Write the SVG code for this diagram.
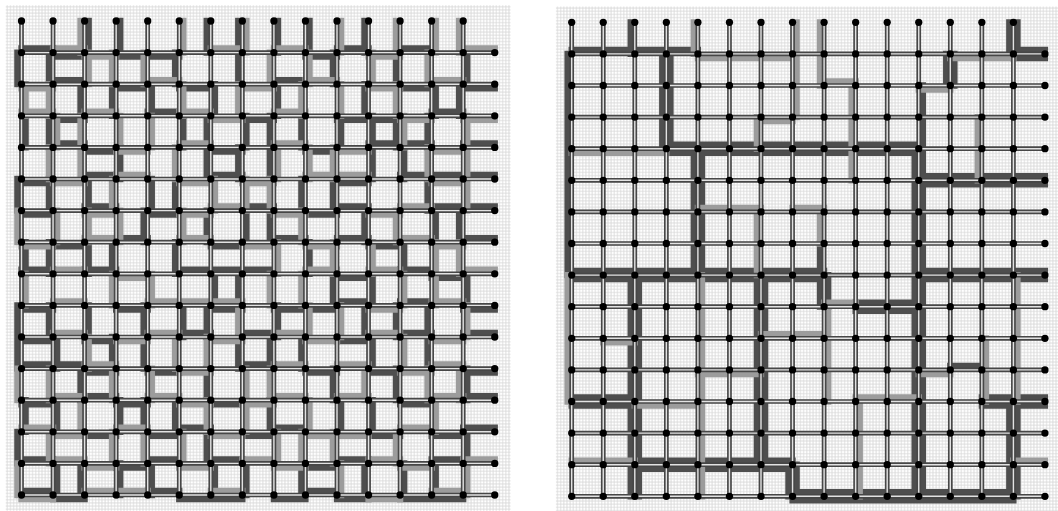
<svg xmlns="http://www.w3.org/2000/svg" width="1058" height="511" viewBox="0 0 1058 511">
<style>
.d{fill:none;stroke:#4e4e4e;stroke-width:2;stroke-linecap:square}
.l{fill:none;stroke:#9c9c9c;stroke-width:2;stroke-linecap:square}
.e{fill:none;stroke:#474747;stroke-width:1.5}
.ec{fill:none;stroke:#e2e2e2;stroke-width:0.45}
.n circle{fill:#000}
</style>
<defs>
<pattern id="fg" width="1" height="1" patternUnits="userSpaceOnUse"><rect width="1" height="1" fill="#fff"/><path d="M0 0.5H1M0.5 0V1" stroke="#d8d8d8" stroke-width="0.26" fill="none"/></pattern>
<g id="row0" class="n"><circle cx="0" r="1.15"/><circle cx="10" r="1.15"/><circle cx="20" r="1.15"/><circle cx="30" r="1.15"/><circle cx="40" r="1.15"/><circle cx="50" r="1.15"/><circle cx="60" r="1.15"/><circle cx="70" r="1.15"/><circle cx="80" r="1.15"/><circle cx="90" r="1.15"/><circle cx="100" r="1.15"/><circle cx="110" r="1.15"/><circle cx="120" r="1.15"/><circle cx="130" r="1.15"/><circle cx="140" r="1.15"/></g>
<g id="rowN" class="n"><use href="#row0"/><circle cx="150" r="1.15"/></g>
<path id="edges" d="M0 10H150M0 20H150M0 30H150M0 40H150M0 50H150M0 60H150M0 70H150M0 80H150M0 90H150M0 100H150M0 110H150M0 120H150M0 130H150M0 140H150M0 150H150M0 0V150M10 0V150M20 0V150M30 0V150M40 0V150M50 0V150M60 0V150M70 0V150M80 0V150M90 0V150M100 0V150M110 0V150M120 0V150M130 0V150M140 0V150"/>
<g id="nodes"><use href="#row0"/><use href="#rowN" y="10"/><use href="#rowN" y="20"/><use href="#rowN" y="30"/><use href="#rowN" y="40"/><use href="#rowN" y="50"/><use href="#rowN" y="60"/><use href="#rowN" y="70"/><use href="#rowN" y="80"/><use href="#rowN" y="90"/><use href="#rowN" y="100"/><use href="#rowN" y="110"/><use href="#rowN" y="120"/><use href="#rowN" y="130"/><use href="#rowN" y="140"/><use href="#rowN" y="150"/></g>
</defs>
<rect width="1058" height="511" fill="#fff"/>

<g id="panel-left" transform="translate(21.5 21) scale(3.155 3.16)">
<rect x="-5" y="-5" width="160" height="160" fill="url(#fg)"/>
<g id="left-connectors">
<path class="d" d="M10 11.3h10M30 11.3h20M100 8.7h10M120 8.7h10M10 18.7h10M50 21.3h10M80 18.7h10M120 21.3h10M10 31.3h10M100 31.3h20M10 38.7h10M20 41.3h10M60 41.3h10M110 38.7h20M140 38.7h10M20 48.7h10M120 48.7h30M20 58.7h10M70 58.7h10M100 58.7h10M130 58.7h20M30 68.7h10M80 68.7h10M110 71.3h10M140 68.7h10M20 78.7h10M50 78.7h30M120 78.7h10M0 91.3h10M30 91.3h10M80 91.3h20M120 88.7h10M0 101.3h10M20 101.3h10M70 98.7h10M140 98.7h10M0 108.7h20M20 111.3h10M110 111.3h10M0 121.3h10M20 118.7h10M30 121.3h10M140 118.7h10M40 131.3h10M50 128.7h10M80 128.7h10M110 131.3h10M140 128.7h10M0 138.7h10M30 141.3h10M60 138.7h10M100 138.7h10M0 148.7h10M10 151.3h10M50 151.3h20M80 151.3h10M100 151.3h10M120 151.3h20
M0 8.7h10M90 11.3h10M30 21.3h10M140 21.3h10M40 28.7h10M70 31.3h10M130 28.7h10M90 41.3h10M0 51.3h10M60 48.7h10M100 51.3h10M0 61.3h10M40 61.3h10M90 61.3h10M10 71.3h10M60 71.3h10M100 68.7h10M0 78.7h10M100 81.3h10M130 81.3h10M60 91.3h10M100 88.7h10M140 91.3h10M50 98.7h10M100 101.3h10M120 98.7h10M40 111.3h10M70 108.7h10M90 111.3h10M140 111.3h10M60 121.3h10M120 121.3h10M20 131.3h10M70 131.3h10M130 131.3h10M40 138.7h10M90 141.3h10M130 138.7h10M40 148.7h10M90 148.7h10
M-1.3 10v10M1.3 30v10M-1.3 50v10M-1.3 90v20M1.3 120v10M8.7 10v10M8.7 30v10M11.3 100v10M11.3 120v10M11.3 140v10M8.7 70v10M21.3 0v10M18.7 20v10M18.7 110v10M21.3 70v10M31.3 0v10M28.7 20v10M28.7 100v10M31.3 120v10M41.3 50v10M38.7 60v10M38.7 100v10M38.7 120v10M48.7 10v10M48.7 50v10M58.7 0v10M58.7 30v20M58.7 60v10M58.7 90v10M58.7 110v10M58.7 130v10M68.7 0v20M68.7 40v10M71.3 60v10M81.3 0v10M81.3 20v10M78.7 30v20M78.7 60v10M78.7 100v10M91.3 0v10M88.7 30v10M88.7 50v10M88.7 140v10M98.7 50v10M101.3 120v10M108.7 0v10M108.7 20v10M111.3 30v20M108.7 60v10M108.7 90v10M111.3 100v10M111.3 120v10M108.7 140v10M118.7 10v10M118.7 30v10M118.7 90v10M121.3 140v10M131.3 20v10M128.7 50v10M128.7 100v10M141.3 10v10M141.3 80v10M141.3 130v10
M1.3 70v10M-1.3 130v10M8.7 50v10M8.7 90v10M21.3 50v10M21.3 90v10M18.7 140v10M31.3 40v10M28.7 70v10M31.3 140v10M41.3 20v10M38.7 90v10M41.3 140v10M51.3 30v10M48.7 70v10M51.3 90v10M48.7 120v10M61.3 20v10M61.3 80v10M61.3 140v10M71.3 30v10M68.7 80v10M68.7 100v10M71.3 140v10M81.3 90v10M78.7 120v10M91.3 70v10M88.7 100v10M98.7 10v10M101.3 30v10M98.7 80v10M98.7 110v10M111.3 80v10M121.3 40v10M121.3 70v10M118.7 110v10M128.7 30v10M131.3 60v10M128.7 90v10M131.3 140v10M138.7 20v10M138.7 60v10M141.3 110v10"/>
<path class="l" d="M10 8.7h10M60 8.7h10M80 8.7h10M140 8.7h10M40 18.7h10M110 21.3h10M130 18.7h10M20 28.7h10M80 28.7h10M60 31.3h10M30 41.3h10M80 38.7h10M130 41.3h10M30 48.7h10M50 51.3h10M90 48.7h20M20 61.3h10M60 58.7h10M110 61.3h10M50 68.7h10M120 68.7h10M0 71.3h10M10 78.7h10M90 78.7h10M140 78.7h10M50 88.7h20M10 98.7h10M30 101.3h10M80 98.7h10M110 98.7h10M20 108.7h10M130 108.7h10M10 118.7h10M40 118.7h10M80 118.7h10M100 118.7h10M0 128.7h10M100 131.3h10M20 141.3h10M70 138.7h10M120 141.3h10M140 138.7h10M0 151.3h10M30 148.7h10M110 151.3h10
M20 11.3h10M110 11.3h10M0 21.3h10M70 21.3h10M90 18.7h10M0 28.7h10M50 28.7h10M120 31.3h10M140 31.3h10M50 38.7h10M100 41.3h10M10 51.3h10M70 51.3h10M130 51.3h10M50 61.3h10M80 61.3h10M120 58.7h10M20 68.7h10M70 71.3h10M90 71.3h10M130 71.3h10M30 81.3h10M110 78.7h10M10 88.7h10M40 88.7h10M110 91.3h10M130 88.7h10M40 98.7h10M60 101.3h10M90 101.3h10M130 101.3h10M50 111.3h10M80 108.7h10M120 111.3h10M100 108.7h10M50 121.3h10M70 121.3h10M130 118.7h10M10 131.3h10M30 128.7h10M60 131.3h10M90 131.3h10M120 128.7h10M10 138.7h10M50 141.3h10M80 141.3h10M110 138.7h10M20 148.7h10M60 148.7h10M130 148.7h10
M-1.3 60v10M-1.3 110v10M-1.3 140v10M8.7 20v10M8.7 40v10M11.3 60v10M18.7 0v10M18.7 30v20M18.7 120v10M28.7 10v10M28.7 50v10M28.7 80v10M41.3 80v10M41.3 30v10M48.7 40v10M48.7 100v10M68.7 20v10M71.3 0v10M71.3 120v10M78.7 10v10M78.7 50v10M78.7 80v10M81.3 130v10M88.7 20v10M88.7 60v10M91.3 90v10M91.3 120v10M98.7 70v10M101.3 140v10M118.7 0v10M118.7 20v10M118.7 60v10M128.7 10v10M131.3 120v10M131.3 70v10M141.3 40v20M141.3 90v10M138.7 110v10
M1.3 20v10M1.3 80v10M11.3 30v10M8.7 110v10M8.7 130v10M21.3 10v10M21.3 60v10M21.3 100v10M31.3 30v10M31.3 60v10M28.7 110v10M28.7 130v10M38.7 10v10M41.3 110v10M38.7 130v10M51.3 0v10M51.3 20v10M51.3 60v10M51.3 130v10M61.3 50v10M58.7 100v10M58.7 120v10M71.3 50v10M68.7 90v10M71.3 110v10M81.3 40v10M81.3 70v10M78.7 110v10M91.3 10v10M91.3 40v10M88.7 80v10M88.7 130v10M101.3 0v10M101.3 20v10M98.7 40v10M101.3 90v10M98.7 130v10M111.3 10v10M111.3 70v10M108.7 110v10M121.3 30v10M121.3 80v10M121.3 100v10M118.7 130v10M131.3 0v10M128.7 40v10M131.3 80v10M128.7 110v10M138.7 0v10M141.3 30v10M138.7 70v10M141.3 140v10"/>
<use href="#edges" class="e"/>
<use href="#edges" class="ec"/>
</g>
<g id="left-nodes"><use href="#nodes"/></g>
</g>

<g id="panel-right" transform="translate(571.7 22.3) scale(3.155 3.16)">
<rect x="-5" y="-5" width="160" height="160" fill="url(#fg)"/>
<g id="right-connectors">
<path class="d" d="M18.7 0v10M0 8.7h40M-1.3 10v70M0 81.3h80M0 78.7h80M28.7 10v30M31.3 10v30M30 38.7h80M30 41.3h80M38.7 40v40M41.3 40v40M111.3 20v20M108.7 40v110M111.3 40v110M110 48.7h40M110 51.3h40M118.7 10v10M121.3 10v10M138.7 0v10M141.3 0v10M140 8.7h10M140 11.3h10M70 148.7h70M70 151.3h70M138.7 120v30M141.3 120v30M130 118.7h20M130 121.3h20M90 88.7h20M90 91.3h20M78.7 80v10M81.3 80v10M110 78.7h40M110 81.3h40M120 108.7h10M58.7 80v60M61.3 80v60M18.7 80v70M21.3 80v70M0 118.7h20M0 121.3h20M20 138.7h50M20 141.3h50M68.7 140v10M71.3 140v10M78.7 70v10"/>
<path class="l" d="M38.7 0v10M40 11.3h30M71.3 0v30M60 31.3h10M58.7 30v10M78.7 0v20M80 18.7h10M88.7 20v30M110 21.3h10M120 11.3h20M128.7 30v20M0 41.3h30M40 58.7h20M58.7 60v20M70 58.7h10M78.7 60v10M41.3 80v70M10 101.3h10M40 111.3h20M20 121.3h20M0 138.7h20M60 98.7h10M81.3 90v30M80 88.7h10M70 98.7h10M91.3 120v30M90 118.7h20M110 111.3h10M131.3 100v20M141.3 80v40M140 138.7h10M-1.3 80v40"/>
<use href="#edges" class="e"/>
<use href="#edges" class="ec"/>
</g>
<g id="right-nodes"><use href="#nodes"/></g>
</g>
</svg>
